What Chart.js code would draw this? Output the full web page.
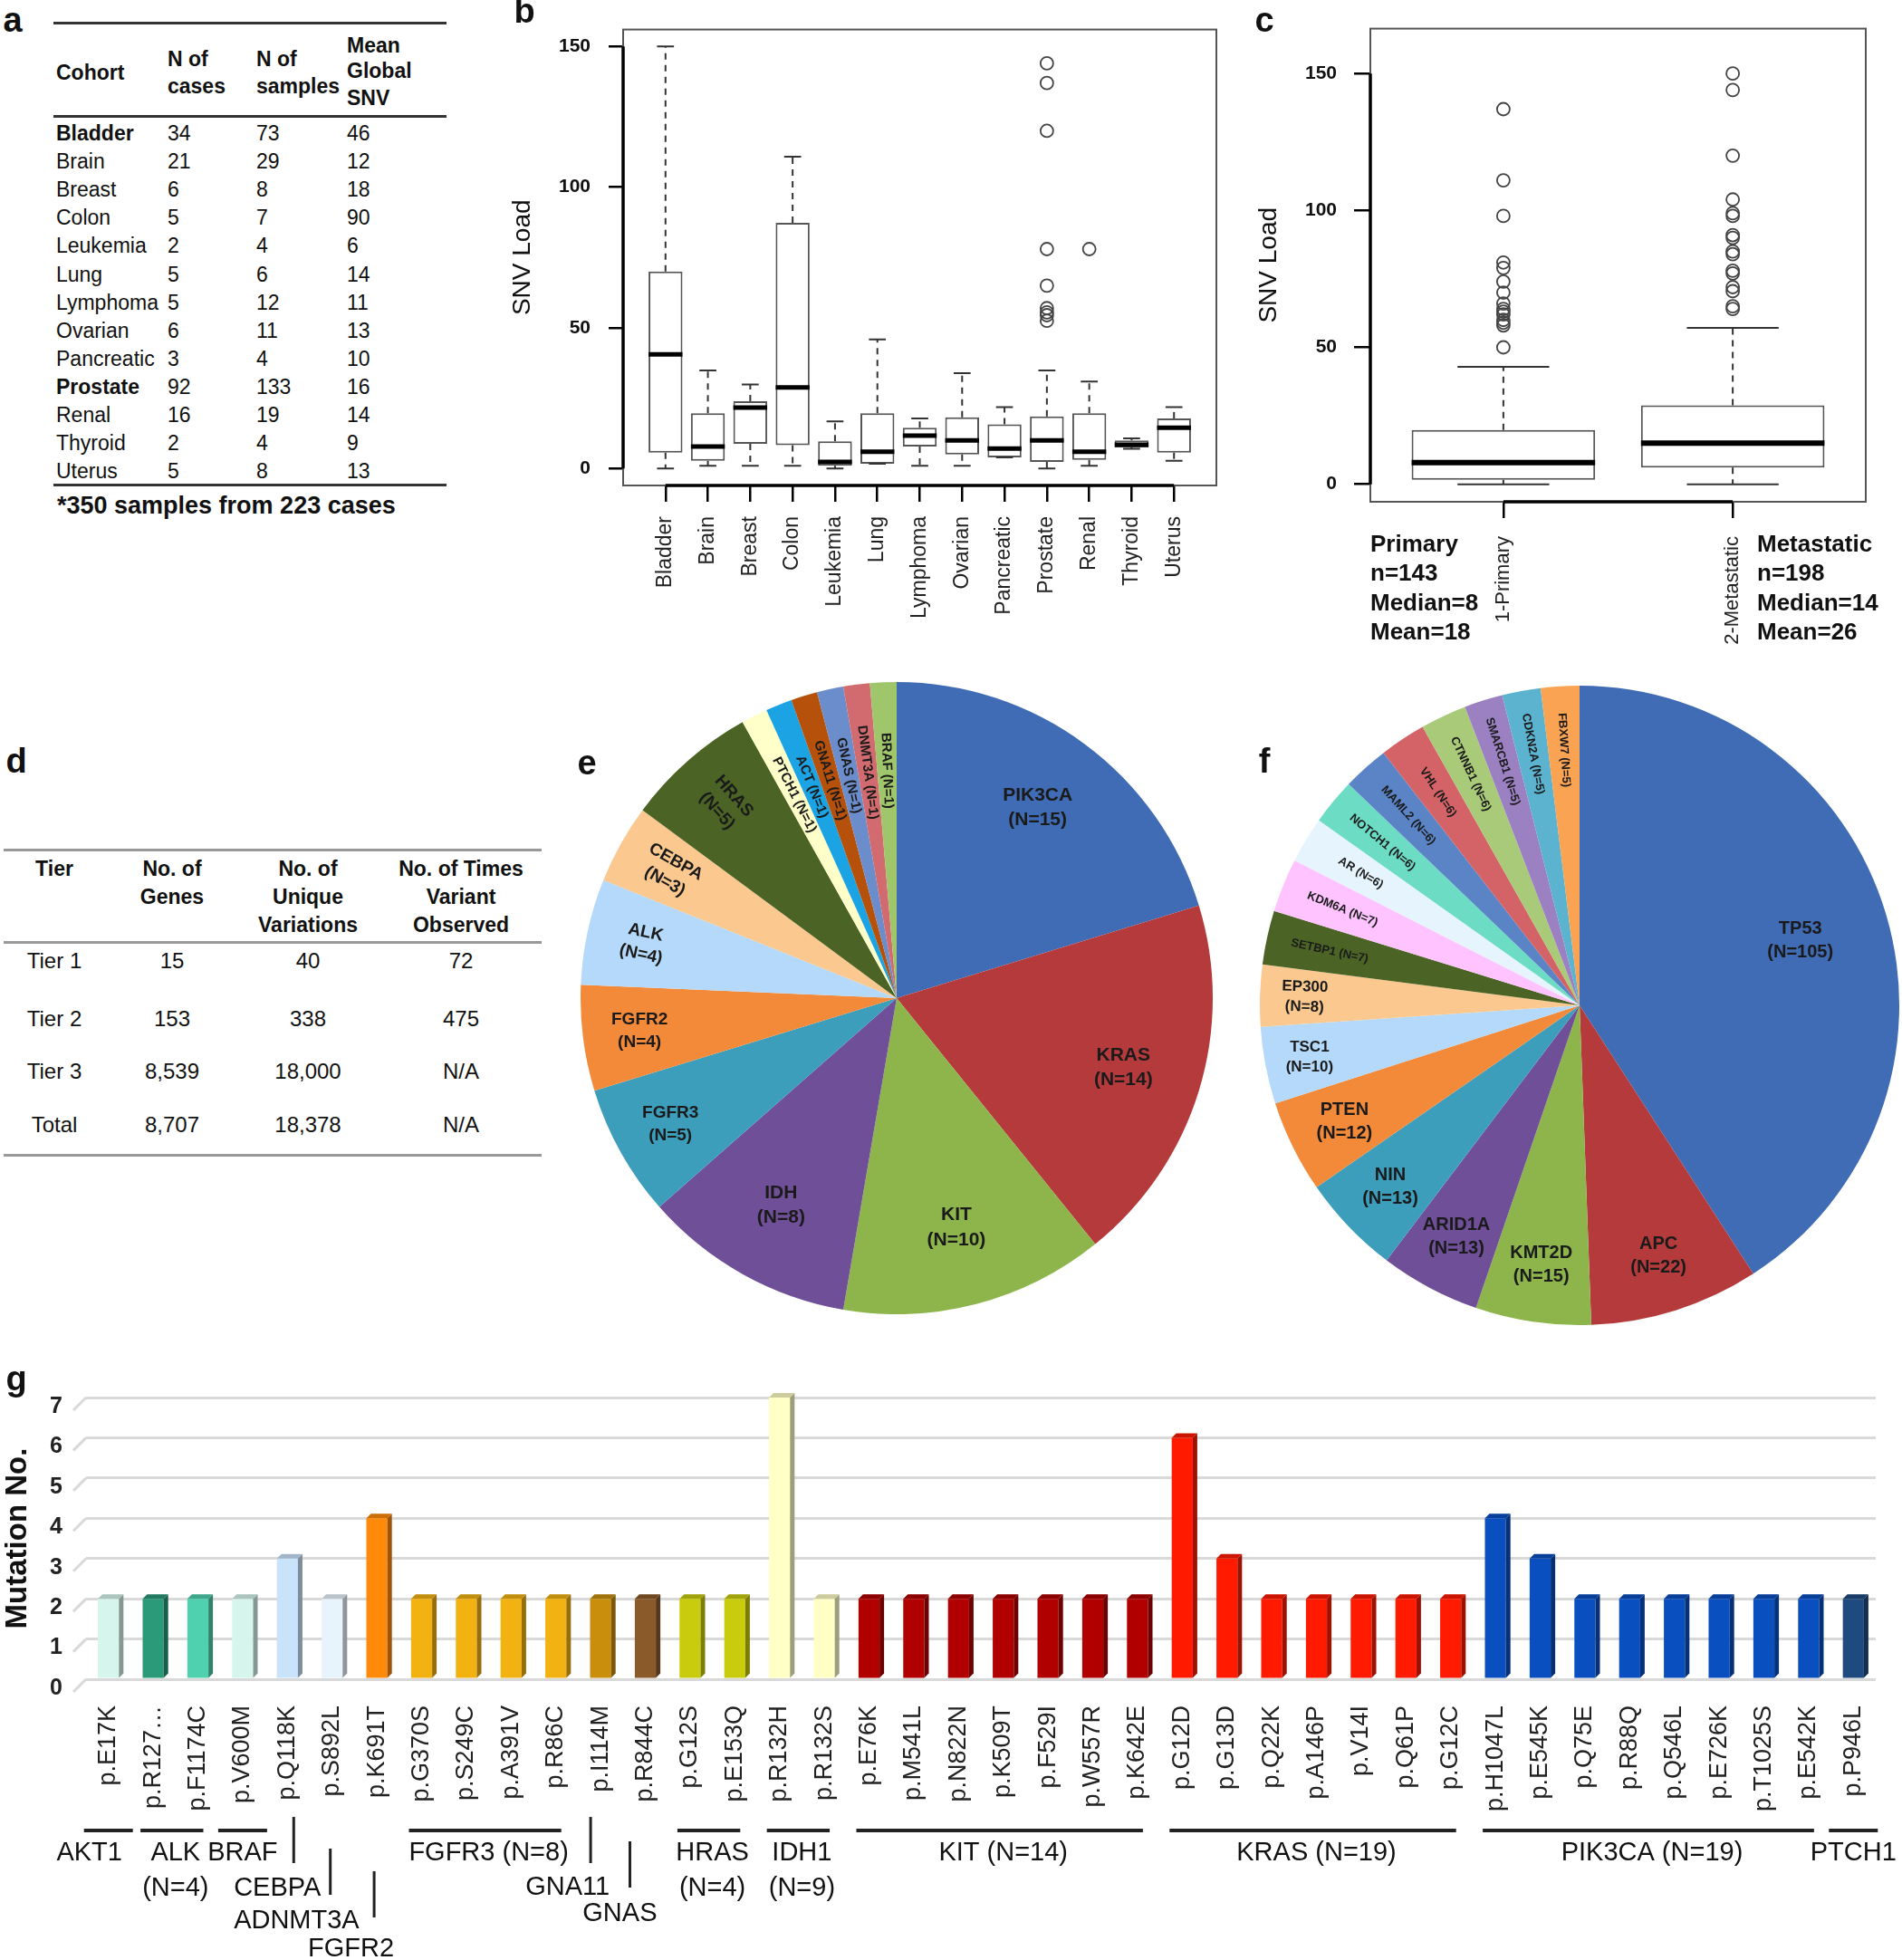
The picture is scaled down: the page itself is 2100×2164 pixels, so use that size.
<!DOCTYPE html>
<html lang="en">
<head>
<meta charset="UTF-8">
<title>SNV load and hotspot mutations</title>
<script src="https://cdn.jsdelivr.net/npm/chart.js"></script>
<style>
  body {
    margin: 0;
    width: 2100px;
    height: 2164px;
    position: relative;
    overflow: hidden;
    background: #fff;
    color: #111;
    font-family: 'Liberation Sans', Arial, sans-serif;
  }
  canvas { position: absolute; }
  .txt {
    position: absolute;
    white-space: nowrap;
    line-height: 1;
    transform: translateY(-50%);
  }
  .txt.center { transform: translate(-50%, -50%); }
  .rule { position: absolute; }
</style>
</head>
<body>
<canvas id="cohortBox" width="800" height="720" style="left:560px;top:0"></canvas>
<canvas id="stageBox" width="730" height="720" style="left:1370px;top:0"></canvas>
<canvas id="tier1Pie" width="698" height="698" style="left:641px;top:753px"></canvas>
<canvas id="tier2Pie" width="706" height="706" style="left:1391px;top:757px"></canvas>
<canvas id="hotspotBar" width="2100" height="664" style="left:0;top:1500px"></canvas>
<script>
// ---- panel a: cohort table ----
const cohorts = ['Bladder', 'Brain', 'Breast', 'Colon', 'Leukemia', 'Lung', 'Lymphoma', 'Ovarian', 'Pancreatic', 'Prostate', 'Renal', 'Thyroid', 'Uterus'];
const nCases = [34, 21, 6, 5, 2, 5, 5, 6, 3, 92, 16, 2, 5];
const nSamples = [73, 29, 8, 7, 4, 6, 12, 11, 4, 133, 19, 4, 8];
const meanSNV = [46, 12, 18, 90, 6, 14, 11, 13, 10, 16, 14, 9, 13];
const boldCohorts = ['Bladder', 'Prostate'];

// ---- panel b: SNV load by cohort (box stats) ----
const cohortLow    = [0, 1, 1, 1, 0, 1.7, 1, 1, 4, 0, 1, 7, 2.8];
const cohortQ1     = [5.7, 2.8, 8.8, 8.3, 1, 1.7, 7.8, 5, 4, 2.4, 3.1, 7.5, 5.7];
const cohortMedian = [40.6, 7.8, 21.7, 28.8, 2.4, 6, 11.7, 10, 7.1, 10, 6, 8.5, 14.5];
const cohortQ3     = [70, 19.7, 23.9, 87.3, 9.7, 19.7, 14.5, 18.2, 15.7, 18.5, 19.7, 10, 17.8];
const cohortHigh   = [150, 34.9, 29.9, 110.8, 16.8, 45.9, 17.8, 33.9, 21.8, 34.9, 30.9, 10.7, 21.8];
const prostateOutliers = [144, 137, 120, 78, 65, 57, 55.5, 54.5, 52.5];
const renalOutliers = [78];
const snvTicks = [0, 50, 100, 150];

// ---- panel c: primary vs metastatic ----
const stages = ['1-Primary', '2-Metastatic'];
const stageLow    = [0, 0];
const stageQ1     = [1.6, 6.1];
const stageMedian = [7.9, 15];
const stageQ3     = [19.8, 28.8];
const stageHigh   = [42.9, 57.1];
const primaryOutliers = [137, 111, 98, 81, 79, 74, 70, 66, 64, 63, 62, 60, 59, 58, 50];
const metastaticOutliers = [150, 144, 120, 104, 99, 98, 91, 90, 85, 84, 78, 77, 72, 70.5, 65, 64];
const primaryNotes = ['Primary', 'n=143', 'Median=8', 'Mean=18'];
const metastaticNotes = ['Metastatic', 'n=198', 'Median=14', 'Mean=26'];

// ---- panel d: tier table ----
const tiers = ['Tier 1', 'Tier 2', 'Tier 3', 'Total'];
const tierGenes = ['15', '153', '8,539', '8,707'];
const tierUnique = ['40', '338', '18,000', '18,378'];
const tierObserved = ['72', '475', 'N/A', 'N/A'];

// ---- panels e, f: gene pies ----
const tier1Genes = ['PIK3CA', 'KRAS', 'KIT', 'IDH', 'FGFR3', 'FGFR2', 'ALK', 'CEBPA', 'HRAS', 'PTCH1', 'ACT', 'GNA11', 'GNAS', 'DNMT3A', 'BRAF'];
const tier1Counts = [15, 14, 10, 8, 5, 4, 4, 3, 5, 1, 1, 1, 1, 1, 1];
const tier2Genes = ['TP53', 'APC', 'KMT2D', 'ARID1A', 'NIN', 'PTEN', 'TSC1', 'EP300', 'SETBP1', 'KDM6A', 'AR', 'NOTCH1', 'MAML2', 'VHL', 'CTNNB1', 'SMARCB1', 'CDKN2A', 'FBXW7'];
const tier2Counts = [105, 22, 15, 13, 13, 12, 10, 8, 7, 7, 6, 6, 6, 6, 6, 5, 5, 5];

// ---- panel g: hotspot mutations ----
const mutations = ['p.E17K', 'p.R127…', 'p.F1174C', 'p.V600M', 'p.Q118K', 'p.S892L', 'p.K691T',
  'p.G370S', 'p.S249C', 'p.A391V', 'p.R86C', 'p.I114M', 'p.R844C', 'p.G12S', 'p.E153Q',
  'p.R132H', 'p.R132S', 'p.E76K', 'p.M541L', 'p.N822N', 'p.K509T', 'p.F529I', 'p.W557R', 'p.K642E',
  'p.G12D', 'p.G13D', 'p.Q22K', 'p.A146P', 'p.V14I', 'p.Q61P', 'p.G12C',
  'p.H1047L', 'p.E545K', 'p.Q75E', 'p.R88Q', 'p.Q546L', 'p.E726K', 'p.T1025S', 'p.E542K', 'p.P946L'];
const mutationCounts = [2, 2, 2, 2, 3, 2, 4, 2, 2, 2, 2, 2, 2, 2, 2, 7, 2, 2, 2, 2, 2, 2, 2, 2,
  6, 3, 2, 2, 2, 2, 2, 4, 3, 2, 2, 2, 2, 2, 2, 2];
const mutationGene = ['AKT1', 'ALK', 'ALK', 'BRAF', 'CEBPA', 'DNMT3A', 'FGFR2',
  'FGFR3', 'FGFR3', 'FGFR3', 'FGFR3', 'GNA11', 'GNAS', 'HRAS', 'HRAS', 'IDH1', 'IDH1',
  'KIT', 'KIT', 'KIT', 'KIT', 'KIT', 'KIT', 'KIT',
  'KRAS', 'KRAS', 'KRAS', 'KRAS', 'KRAS', 'KRAS', 'KRAS',
  'PIK3CA', 'PIK3CA', 'PIK3CA', 'PIK3CA', 'PIK3CA', 'PIK3CA', 'PIK3CA', 'PIK3CA', 'PTCH1'];
const mutationTicks = [0, 1, 2, 3, 4, 5, 6, 7];

// ---------------- styles ----------------
const FONT = "'Liberation Sans', Arial, sans-serif";
const pieColors = ['#3f6cb4', '#b53a3c', '#8db54b', '#6f4f97', '#3c9ebb', '#f38a39', '#b4d9fa', '#fbc98f', '#4b6425'];
const tier1Extra = ['#ffffc9', '#1ba3e3', '#b5510a', '#6b8dcb', '#d26b6f', '#a0c66c'];
const tier2Extra = ['#ffc3ff', '#e6f4fd', '#6ddcc5', '#5b84c6', '#d36367', '#a9ca78', '#9b80c2', '#5bb3cf', '#f9a353'];
const geneColor = {
  AKT1: '#d6f5ec', BRAF: '#d6f5ec', CEBPA: '#c9e3fa', DNMT3A: '#e8f4fc', FGFR2: '#ff8a0a',
  FGFR3: '#f2b212', GNA11: '#c98f0c', GNAS: '#8b5a2b', HRAS: '#c9cc0c', IDH1: '#ffffc6',
  KIT: '#b00000', KRAS: '#ff1a00', PIK3CA: '#0a4fc0', PTCH1: '#1f4a80'
};
const alkColors = ['#2a9a78', '#4fd0ae'];

Chart.defaults.font.family = FONT;
Chart.defaults.color = '#111';

function put(text, x, y, size, opts = {}) {
  const el = document.createElement('div');
  el.className = 'txt' + (opts.center ? ' center' : '');
  el.textContent = text;
  el.style.left = x + 'px';
  el.style.top = y + 'px';
  el.style.fontSize = size + 'px';
  if (opts.bold) el.style.fontWeight = 'bold';
  document.body.appendChild(el);
}
function rule(x1, x2, y, h, color) {
  const el = document.createElement('div');
  el.className = 'rule';
  el.style.cssText = `left:${x1}px;top:${y - h / 2}px;width:${x2 - x1}px;height:${h}px;background:${color}`;
  document.body.appendChild(el);
}

// panel letters
[['a', 14, 22], ['b', 579, 12], ['c', 1396, 22], ['d', 18, 840], ['e', 648, 842], ['f', 1396, 840], ['g', 18, 1522]]
  .forEach(([t, x, y]) => put(t, x, y, 38, { bold: true, center: true }));

// ---- table a ----
rule(59, 493, 25, 3, '#333');
rule(59, 493, 128, 3, '#333');
rule(59, 493, 535, 3, '#333');
put('Cohort', 62, 80, 23, { bold: true });
put('N of', 185, 65, 23, { bold: true }); put('cases', 185, 95, 23, { bold: true });
put('N of', 283, 65, 23, { bold: true }); put('samples', 283, 95, 23, { bold: true });
put('Mean', 383, 50, 23, { bold: true }); put('Global', 383, 78, 23, { bold: true }); put('SNV', 383, 108, 23, { bold: true });
cohorts.forEach((c, i) => {
  const y = 147 + 31.1 * i;
  put(c, 62, y, 23, { bold: boldCohorts.includes(c) });
  put(String(nCases[i]), 185, y, 23);
  put(String(nSamples[i]), 283, y, 23);
  put(String(meanSNV[i]), 383, y, 23);
});
put('*350 samples from 223 cases', 63, 558, 27, { bold: true });

// ---- table d ----
rule(4, 598, 938, 3, '#999');
rule(4, 598, 1040, 3, '#999');
rule(4, 598, 1275, 3, '#999');
const tierCols = [60, 190, 340, 509];
[['Tier'], ['No. of', 'Genes'], ['No. of', 'Unique', 'Variations'], ['No. of Times', 'Variant', 'Observed']]
  .forEach((lines, c) => lines.forEach((t, k) => put(t, tierCols[c], 959 + 31 * k, 23, { bold: true, center: true })));
tiers.forEach((t, i) => {
  const y = [1061, 1125, 1183, 1242][i];
  [t, tierGenes[i], tierUnique[i], tierObserved[i]].forEach((v, c) => put(v, tierCols[c], y, 24, { center: true }));
});

// ---- panel c notes ----
primaryNotes.forEach((t, k) => put(t, 1513, 600 + 32.3 * k, 26, { bold: true }));
metastaticNotes.forEach((t, k) => put(t, 1940, 600 + 32.3 * k, 26, { bold: true }));

// ---------------- box plots ----------------
const boxDecor = {
  id: 'boxDecor',
  afterDatasetsDraw(chart, args, o) {
    const { ctx, chartArea: a, scales: { x, y } } = chart;
    const s = o.stats;
    ctx.save();
    ctx.strokeStyle = '#555';
    ctx.lineWidth = 2;
    ctx.strokeRect(a.left, a.top, a.right - a.left, a.bottom - a.top);
    ctx.strokeStyle = '#000';
    ctx.lineWidth = 3.5;
    ctx.beginPath();
    ctx.moveTo(a.left, y.getPixelForValue(snvTicks[0]));
    ctx.lineTo(a.left, y.getPixelForValue(snvTicks[snvTicks.length - 1]));
    ctx.moveTo(x.getPixelForValue(1), a.bottom);
    ctx.lineTo(x.getPixelForValue(s.med.length), a.bottom);
    ctx.stroke();
    const halfBox = x.getPixelForValue(1.4) - x.getPixelForValue(1);
    s.med.forEach((m, i) => {
      const cx = x.getPixelForValue(i + 1);
      ctx.strokeStyle = '#333';
      ctx.lineWidth = 2;
      ctx.setLineDash([7, 6]);
      ctx.beginPath();
      ctx.moveTo(cx, y.getPixelForValue(s.q3[i])); ctx.lineTo(cx, y.getPixelForValue(s.high[i]));
      ctx.moveTo(cx, y.getPixelForValue(s.q1[i])); ctx.lineTo(cx, y.getPixelForValue(s.low[i]));
      ctx.stroke();
      ctx.setLineDash([]);
      ctx.beginPath();
      [s.high[i], s.low[i]].forEach(v => {
        const py = y.getPixelForValue(v);
        ctx.moveTo(cx - halfBox / 2, py); ctx.lineTo(cx + halfBox / 2, py);
      });
      ctx.stroke();
      ctx.strokeStyle = '#000';
      ctx.lineWidth = o.medianWidth;
      ctx.beginPath();
      const my = y.getPixelForValue(m);
      ctx.moveTo(cx - halfBox, my); ctx.lineTo(cx + halfBox, my);
      ctx.stroke();
    });
    ctx.restore();
  }
};

function boxChart(id, names, stats, outliers, cfg) {
  const boxes = names.map((_, i) => ({ x: i + 1, y: [stats.q1[i], stats.q3[i]] }));
  const pts = [];
  outliers.forEach(([name, vals]) => {
    const xi = names.indexOf(name) + 1;
    vals.forEach(v => pts.push({ x: xi, y: v }));
  });
  return new Chart(document.getElementById(id), {
    type: 'bar',
    data: {
      datasets: [
        { type: 'bar', data: boxes, backgroundColor: '#fff', borderColor: '#555', borderWidth: 2,
          borderSkipped: false, barPercentage: 0.8, categoryPercentage: 1 },
        { type: 'scatter', data: pts, pointStyle: 'circle', pointRadius: 7, borderColor: '#444',
          borderWidth: 1.8, backgroundColor: 'rgba(0,0,0,0)' }
      ]
    },
    options: {
      responsive: false, devicePixelRatio: 1, animation: false,
      layout: { padding: cfg.padding },
      plugins: { legend: { display: false }, tooltip: { enabled: false },
        boxDecor: { stats, medianWidth: cfg.medianWidth } },
      scales: {
        x: {
          type: 'linear', min: cfg.xMin, max: cfg.xMax, offset: false,
          afterBuildTicks: s => { s.ticks = names.map((_, i) => ({ value: i + 1 })); },
          afterFit: s => { s.height = cfg.xHeight; },
          ticks: { autoSkip: false, minRotation: 90, maxRotation: 90, padding: cfg.xPad,
            font: { size: cfg.xFont }, color: '#222', callback: v => names[Math.round(v) - 1] },
          grid: { offset: false, drawOnChartArea: false, tickLength: 18, lineWidth: 2.5, color: '#000' },
          border: { display: false }
        },
        y: {
          min: cfg.yMin, max: cfg.yMax,
          afterBuildTicks: s => { s.ticks = snvTicks.map(v => ({ value: v })); },
          afterFit: s => { s.width = cfg.yWidth; },
          ticks: { padding: cfg.yPad, font: { size: 21, weight: 'bold' }, color: '#111' },
          grid: { drawOnChartArea: false, tickLength: cfg.yTick, lineWidth: 2.5, color: '#000' },
          border: { display: false },
          title: { display: true, text: 'SNV Load', font: { size: 28 }, color: '#111', padding: 0 }
        }
      }
    },
    plugins: [boxDecor]
  });
}

boxChart('cohortBox', cohorts,
  { low: cohortLow, q1: cohortQ1, med: cohortMedian, q3: cohortQ3, high: cohortHigh },
  [['Prostate', prostateOutliers], ['Renal', renalOutliers]],
  { padding: { left: 0, right: 17, top: 22, bottom: 0 }, xMin: 0, xMax: 14, yMin: -6, yMax: 156,
    xHeight: 184, yWidth: 128, xPad: 16, xFont: 23, yPad: 20, yTick: 16, medianWidth: 5 });

boxChart('stageBox', stages,
  { low: stageLow, q1: stageQ1, med: stageMedian, q3: stageQ3, high: stageHigh },
  [['1-Primary', primaryOutliers], ['2-Metastatic', metastaticOutliers]],
  { padding: { left: 14, right: 40, top: 19, bottom: 0 }, xMin: 0.42, xMax: 2.58, yMin: -6.4, yMax: 166.4,
    xHeight: 166, yWidth: 129, xPad: 20, xFont: 22, yPad: 19, yTick: 18, medianWidth: 6 });

// ---------------- pies ----------------
const sliceLabels = {
  id: 'sliceLabels',
  afterDatasetsDraw(chart, args, o) {
    const { ctx } = chart;
    const meta = chart.getDatasetMeta(0);
    const names = chart.data.labels;
    const vals = chart.data.datasets[0].data;
    ctx.save();
    ctx.fillStyle = '#1a1a1a';
    ctx.textAlign = 'center';
    ctx.textBaseline = 'middle';
    meta.data.forEach((arc, i) => {
      const { x, y, startAngle, endAngle, outerRadius } =
        arc.getProps(['x', 'y', 'startAngle', 'endAngle', 'outerRadius'], true);
      const a = (startAngle + endAngle) / 2;
      const v = vals[i];
      const tier = v >= o.big ? 0 : v >= o.two ? 1 : 2;
      const rf = v > 50 ? 0.72 : o.radii[tier];
      const fromTop = (((a + Math.PI / 2) * 180 / Math.PI) % 360 + 360) % 360;
      ctx.save();
      ctx.translate(x + Math.cos(a) * outerRadius * rf, y + Math.sin(a) * outerRadius * rf);
      if (fromTop > 270) ctx.rotate(a + Math.PI);
      ctx.font = `bold ${o.fonts[tier]}px ${FONT}`;
      if (tier < 2) {
        const lh = o.fonts[tier] * 1.3;
        ctx.fillText(names[i], 0, -lh / 2);
        ctx.fillText(`(N=${v})`, 0, lh / 2);
      } else {
        ctx.fillText(`${names[i]} (N=${v})`, 0, 0);
      }
      ctx.restore();
    });
    ctx.restore();
  }
};

function pieChart(id, names, counts, colors, labelOpts) {
  return new Chart(document.getElementById(id), {
    type: 'pie',
    data: { labels: names, datasets: [{ data: counts, backgroundColor: colors, borderWidth: 0 }] },
    options: {
      responsive: false, devicePixelRatio: 1, animation: false,
      layout: { padding: 0 },
      plugins: { legend: { display: false }, tooltip: { enabled: false }, sliceLabels: labelOpts }
    },
    plugins: [sliceLabels]
  });
}
pieChart('tier1Pie', tier1Genes, tier1Counts, pieColors.concat(tier1Extra),
  { big: 8, two: 3, fonts: [21, 19, 15], radii: [0.75, 0.82, 0.72] });
pieChart('tier2Pie', tier2Genes, tier2Counts, pieColors.concat(tier2Extra),
  { big: 12, two: 8, fonts: [20, 17, 13], radii: [0.82, 0.86, 0.8] });

// ---------------- 3D-ish bar chart ----------------
function shade(hex, k) {
  const n = parseInt(hex.slice(1), 16);
  return `rgb(${Math.round(((n >> 16) & 255) * k)},${Math.round(((n >> 8) & 255) * k)},${Math.round((n & 255) * k)})`;
}
const barColors = mutationGene.map((g, i) => g === 'ALK' ? alkColors[i - 1] : geneColor[g]);

const bar3d = {
  id: 'bar3d',
  beforeDatasetsDraw(chart) {
    const { ctx, chartArea: a, scales: { y } } = chart;
    ctx.save();
    ctx.strokeStyle = '#d9d9d9';
    ctx.lineWidth = 3;
    mutationTicks.forEach(v => {
      const py = y.getPixelForValue(v);
      ctx.beginPath(); ctx.moveTo(a.left - 14, py + 14); ctx.lineTo(a.left, py); ctx.stroke();
    });
    ctx.restore();
  },
  afterDatasetsDraw(chart) {
    const ctx = chart.ctx;
    const d = 5;
    chart.getDatasetMeta(0).data.forEach((bar, i) => {
      const { x, y, base, width } = bar.getProps(['x', 'y', 'base', 'width'], true);
      const col = barColors[i];
      const l = x - width / 2, r = x + width / 2;
      ctx.fillStyle = shade(col, 0.62);
      ctx.beginPath();
      ctx.moveTo(r, y); ctx.lineTo(r + d, y - d); ctx.lineTo(r + d, base - d); ctx.lineTo(r, base);
      ctx.closePath(); ctx.fill();
      ctx.fillStyle = shade(col, 0.8);
      ctx.beginPath();
      ctx.moveTo(l, y); ctx.lineTo(l + d, y - d); ctx.lineTo(r + d, y - d); ctx.lineTo(r, y);
      ctx.closePath(); ctx.fill();
    });
  }
};

// label layout under the axis, offsets from the chart bottom (px)
const geneLabelStyle = {
  AKT1: { kind: 'span', textDx: -21 }, ALK: { kind: 'span', n: 'below' }, BRAF: { kind: 'span' },
  CEBPA: { kind: 'tick', dx: 7, lineTop: 152, textY: 231, textRight: 37 },
  DNMT3A: { kind: 'tick', dx: -2, lineTop: 187, textY: 267, textRight: 30, text: 'ADNMT3A' },
  FGFR2: { kind: 'tick', dx: -3, lineTop: 212, textY: 298, textRight: 19 },
  FGFR3: { kind: 'span', n: 'inline' },
  GNA11: { kind: 'tick', dx: -11, lineTop: 152, textY: 230, textRight: 10 },
  GNAS: { kind: 'tick', dx: -17, lineTop: 179, textY: 259, textRight: 13 },
  HRAS: { kind: 'span', n: 'below' }, IDH1: { kind: 'span', n: 'below' },
  KIT: { kind: 'span', n: 'inline' }, KRAS: { kind: 'span', n: 'inline' },
  PIK3CA: { kind: 'span', n: 'inline' }, PTCH1: { kind: 'span' }
};

const geneBrackets = {
  id: 'geneBrackets',
  afterDraw(chart) {
    const { ctx, scales: { x }, chartArea: a } = chart;
    ctx.save();
    ctx.fillStyle = '#111';
    ctx.strokeStyle = '#222';
    ctx.font = `29px ${FONT}`;
    ctx.textBaseline = 'middle';
    [...new Set(mutationGene)].forEach(g => {
      const idx = mutationGene.map((m, i) => (m === g ? i : -1)).filter(i => i >= 0);
      const first = idx[0], last = idx[idx.length - 1];
      const n = idx.reduce((s, i) => s + mutationCounts[i], 0);
      const x0 = x.getPixelForValue(first), x1 = x.getPixelForValue(last);
      const st = geneLabelStyle[g];
      if (st.kind === 'span') {
        const l = first === last ? x0 - 27 : x0 - 14;
        const r = first === last ? x1 + 27 : x1 + 6;
        ctx.lineWidth = 4;
        ctx.beginPath(); ctx.moveTo(l, a.bottom + 167); ctx.lineTo(r, a.bottom + 167); ctx.stroke();
        ctx.textAlign = 'center';
        const cx = (x0 + x1) / 2 + (st.textDx || 0);
        if (st.n === 'inline') {
          ctx.fillText(`${g} (N=${n})`, cx, a.bottom + 192);
        } else {
          ctx.fillText(g, cx, a.bottom + 192);
          if (st.n === 'below') ctx.fillText(`(N=${n})`, cx, a.bottom + 231);
        }
      } else {
        ctx.lineWidth = 3;
        ctx.beginPath();
        ctx.moveTo(x0 + st.dx, a.bottom + st.lineTop);
        ctx.lineTo(x0 + st.dx, a.bottom + st.lineTop + 51);
        ctx.stroke();
        ctx.textAlign = 'right';
        ctx.fillText(st.text || g, x0 + st.textRight, a.bottom + st.textY);
      }
    });
    ctx.restore();
  }
};

new Chart(document.getElementById('hotspotBar'), {
  type: 'bar',
  data: {
    labels: mutations,
    datasets: [{ data: mutationCounts, backgroundColor: barColors, borderWidth: 0,
      barPercentage: 0.47, categoryPercentage: 1 }]
  },
  options: {
    responsive: false, devicePixelRatio: 1, animation: false,
    layout: { padding: { left: 0, right: 25, top: 43, bottom: 0 } },
    plugins: { legend: { display: false }, tooltip: { enabled: false } },
    scales: {
      x: {
        afterFit: s => { s.height = 310; },
        grid: { display: false }, border: { display: false },
        ticks: { autoSkip: false, minRotation: 90, maxRotation: 90, padding: 21,
          font: { size: 27 }, color: '#222' }
      },
      y: {
        min: 0, max: 7,
        afterBuildTicks: s => { s.ticks = mutationTicks.map(v => ({ value: v })); },
        afterFit: s => { s.width = 95; },
        ticks: { padding: 26, labelOffset: 10, font: { size: 25, weight: 'bold' }, color: '#222' },
        grid: { color: '#d9d9d9', lineWidth: 3, drawTicks: false },
        border: { display: false },
        title: { display: true, text: 'Mutation No.', font: { size: 33, weight: 'bold' }, color: '#111',
          padding: { top: 0, bottom: 0 } }
      }
    }
  },
  plugins: [bar3d, geneBrackets]
});
</script>
</body>
</html>
